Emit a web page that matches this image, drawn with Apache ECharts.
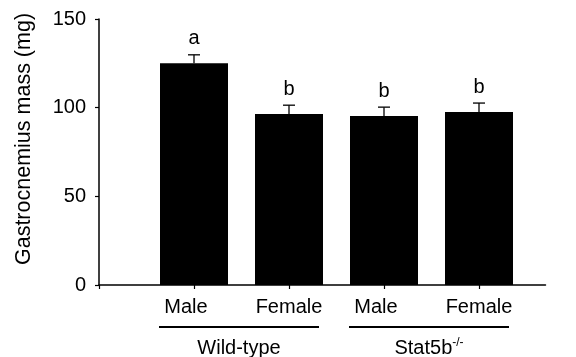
<!DOCTYPE html>
<html>
<head>
<meta charset="utf-8">
<script src="https://cdn.jsdelivr.net/npm/echarts@6/dist/echarts.min.js"></script>
<style>
html,body{margin:0;padding:0;background:#fff;}
#chart{width:576px;height:357px;}
</style>
</head>
<body>
<div id="chart"></div>
<script>
const categories = ['Male', 'Female', 'Male', 'Female'];
const positions = [1, 2, 3, 4];
const means = [125, 96.4, 95.3, 97.6];
const errors = [4.8, 5, 5, 5];
const letters = ['a', 'b', 'b', 'b'];
const groupNames = ['Wild-type', 'Stat5b{sup|-/-}'];
const groupStart = [1, 3];
const groupEnd = [2, 4];
const yTicks = [0, 50, 100, 150];

const FONT = 'Liberation Sans, Arial, Helvetica, sans-serif';
const chart = echarts.init(document.getElementById('chart'), null, {renderer: 'canvas'});

const barData = positions.map((p, i) => [p, means[i]]);
const errData = positions.map((p, i) => [p, means[i], errors[i], letters[i]]);
const groupData = groupNames.map((g, i) => [groupStart[i], groupEnd[i], g]);

chart.setOption({
  animation: false,
  backgroundColor: '#fff',
  grid: {left: 99, top: 19, width: 446.5, height: 266, containLabel: false},
  xAxis: {
    type: 'value', min: 0, max: 4.7,
    splitLine: {show: false},
    axisLine: {show: true, lineStyle: {color: '#000', width: 1.5}},
    axisTick: {show: true, length: 4, lineStyle: {color: '#000', width: 1.2}, customValues: [0].concat(positions)},
    axisLabel: {
      show: true, margin: 12, fontSize: 20, fontFamily: FONT, color: '#000',
      customValues: positions,
      formatter: function (v) {
        const c = categories[positions.indexOf(v)] || '';
        return c === 'Male' ? '{m|' + c + '}' : c;
      },
      rich: {m: {fontSize: 20, fontFamily: FONT, color: '#000', padding: [0, 16, 0, 0]}}
    }
  },
  yAxis: {
    type: 'value', min: yTicks[0], max: yTicks[yTicks.length - 1], interval: 50,
    name: 'Gastrocnemius mass (mg)', nameLocation: 'middle', nameGap: 64,
    nameTextStyle: {fontSize: 21.5, fontFamily: FONT, color: '#000', padding: [0, 0, 0, 26]},
    splitLine: {show: false},
    axisLine: {show: true, lineStyle: {color: '#000', width: 1.5}},
    axisTick: {show: true, length: 4, lineStyle: {color: '#000', width: 1.2}},
    axisLabel: {fontSize: 20, fontFamily: FONT, color: '#000', margin: 13}
  },
  series: [
    {
      type: 'bar', data: barData, barWidth: 68,
      itemStyle: {color: '#000'}, z: 2
    },
    {
      type: 'custom', data: errData, z: 3,
      renderItem: function (params, api) {
        const x = api.value(0), m = api.value(1), e = api.value(2);
        const top = api.coord([x, m]);
        const hi = api.coord([x, m + e]);
        const letter = errData[params.dataIndex][3];
        return {
          type: 'group',
          children: [
            {type: 'line', shape: {x1: hi[0], y1: top[1], x2: hi[0], y2: hi[1]}, style: {stroke: '#000', lineWidth: 1.3}},
            {type: 'line', shape: {x1: hi[0] - 6, y1: hi[1], x2: hi[0] + 6, y2: hi[1]}, style: {stroke: '#000', lineWidth: 1.3}},
            {type: 'text', style: {text: letter, x: hi[0], y: hi[1] - 6, align: 'center', verticalAlign: 'bottom', fontSize: 20, fontFamily: FONT, fill: '#000'}}
          ]
        };
      }
    },
    {
      type: 'custom', data: groupData, z: 3, clip: false,
      renderItem: function (params, api) {
        const a = api.coord([api.value(0), 0]);
        const b = api.coord([api.value(1), 0]);
        const name = groupData[params.dataIndex][2];
        const x1 = a[0] - 35, x2 = b[0] + 30;
        return {
          type: 'group',
          children: [
            {type: 'line', shape: {x1: x1, y1: a[1] + 42, x2: x2, y2: a[1] + 42}, style: {stroke: '#000', lineWidth: 2}},
            {type: 'text', style: {
              text: name, x: (x1 + x2) / 2, y: a[1] + 63, align: 'center', verticalAlign: 'middle',
              fontSize: 20, fontFamily: FONT, fill: '#000',
              rich: {sup: {fontSize: 12, fontFamily: FONT, fill: '#000', verticalAlign: 'top', padding: [0, 0, 10, 0]}}
            }}
          ]
        };
      }
    }
  ]
});
</script>
</body>
</html>
